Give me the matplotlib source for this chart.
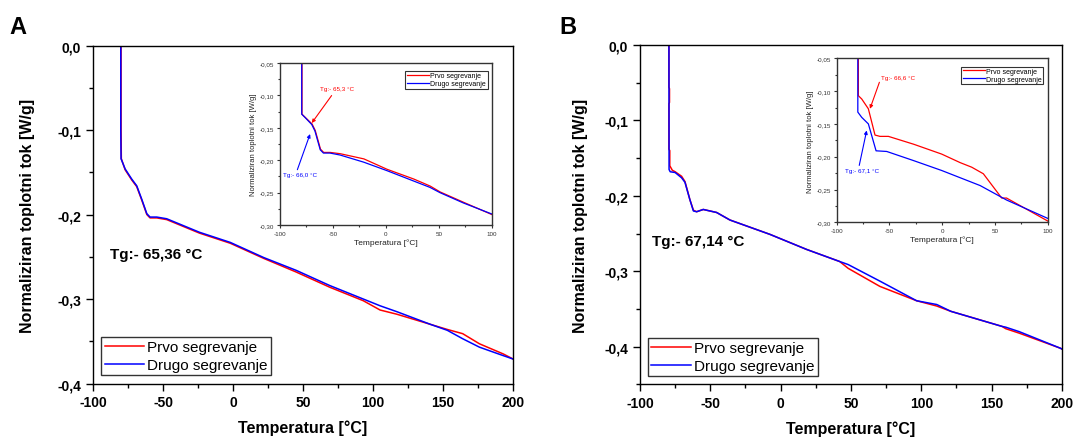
import matplotlib
matplotlib.use("Agg")
import matplotlib.pyplot as plt
from matplotlib.ticker import FuncFormatter, MultipleLocator

plt.rcParams['font.family'] = ['Liberation Sans', 'DejaVu Sans']
plt.rcParams['axes.unicode_minus'] = False

RED = "#ff0000"
BLUE = "#0000ff"

# panel A, main curve (first / second heating)
temp_a_red = [-80.0, -80.0, -79.8, -77.1, -72.4, -68.8, -65.2, -61.6, -59.3, -54.5, -47.4,
              -24, -2, 22, 45, 69, 93, 105, 117, 141, 153, 164, 176, 193, 200]
flow_a_red = [0.02, -0.10, -0.134, -0.147, -0.159, -0.167, -0.183, -0.200, -0.204, -0.204, -0.206,
              -0.222, -0.234, -0.252, -0.268, -0.286, -0.302, -0.313, -0.318, -0.330, -0.336,
              -0.341, -0.353, -0.365, -0.371]
temp_a_blue = [-80.2, -80.2, -80.0, -77.1, -72.4, -68.8, -65.2, -61.6, -59.3, -54.5, -47.4,
               -24, -2, 22, 45, 69, 93, 105, 117, 141, 153, 164, 176, 193, 200]
flow_a_blue = [0.02, -0.10, -0.134, -0.146, -0.158, -0.166, -0.182, -0.199, -0.203, -0.203, -0.205,
               -0.221, -0.233, -0.251, -0.266, -0.284, -0.300, -0.308, -0.315, -0.330, -0.337,
               -0.347, -0.357, -0.367, -0.371]

# panel B, main curve
temp_b_red = [-79.4, -79.4, -79.0, -79.0, -79.4, -79.4, -78.8, -78.8, -77.0, -75.0, -70.4, -68.0,
              -64.5, -62.0, -59.7, -55.0, -45.5, -36, -7.6, 18.5, 42, 48, 70.6, 96.7, 111, 121,
              157.4, 160, 169.7, 199, 200]
flow_b_red = [0.02, -0.056, -0.058, -0.076, -0.078, -0.138, -0.140, -0.160, -0.166, -0.168, -0.174,
              -0.181, -0.205, -0.219, -0.221, -0.218, -0.222, -0.232, -0.251, -0.271, -0.287, -0.296,
              -0.320, -0.339, -0.346, -0.353, -0.373, -0.376, -0.382, -0.402, -0.403]
temp_b_blue = [-79.4, -79.3, -78.5, -75.0, -70.4, -68.0, -64.5, -62.0, -59.7, -55.0, -45.5, -36,
               -7.6, 18.5, 42, 48, 70.6, 96.7, 111, 121, 157.4, 160, 169.7, 199, 200]
flow_b_blue = [0.02, -0.165, -0.168, -0.169, -0.176, -0.182, -0.205, -0.220, -0.221, -0.218, -0.222,
               -0.232, -0.251, -0.271, -0.287, -0.291, -0.313, -0.339, -0.344, -0.353, -0.373,
               -0.374, -0.380, -0.402, -0.403]

# inset A
ins_temp_a = [-79.5, -79.5, -76.4, -70, -67, -62, -59, -52.8, -43.3, -21, 0.8, 26, 41.7, 51, 73.2, 100]
ins_a_red = [-0.04, -0.129, -0.134, -0.144, -0.154, -0.183, -0.188, -0.188, -0.190, -0.198, -0.214,
             -0.229, -0.240, -0.249, -0.265, -0.284]
ins_a_blue = [-0.04, -0.129, -0.134, -0.145, -0.155, -0.184, -0.189, -0.189, -0.192, -0.203, -0.216,
              -0.232, -0.242, -0.250, -0.266, -0.283]

# inset B
ins_temp_b_red = [-79.5, -79.5, -76.3, -70, -63.7, -59, -51, -27, -0.5, 17, 28, 39, 56.4, 61, 100]
ins_b_red = [-0.04, -0.107, -0.112, -0.127, -0.167, -0.169, -0.169, -0.181, -0.196, -0.209, -0.216,
             -0.226, -0.263, -0.263, -0.298]
ins_temp_b_blue = [-80, -80, -76.3, -70, -62.7, -52.6, -27, -0.5, 36, 61, 100]
ins_b_blue = [-0.04, -0.132, -0.140, -0.150, -0.191, -0.192, -0.206, -0.221, -0.244, -0.266, -0.294]

labels = ["Prvo segrevanje", "Drugo segrevanje"]


def comma(dec):
    def fmt(v, pos):
        if abs(v) < 1e-9:
            v = 0.0
        return f"{v:.{dec}f}".replace(".", ",")
    return FuncFormatter(fmt)


def style_main(ax, ymin, tg_text, tg_pos, ylab_x):
    ax.set_xlim(-100, 200)
    ax.set_ylim(ymin, 0.0)
    ax.xaxis.set_major_locator(MultipleLocator(50))
    ax.xaxis.set_minor_locator(MultipleLocator(25))
    ax.yaxis.set_major_locator(MultipleLocator(0.1))
    ax.yaxis.set_minor_locator(MultipleLocator(0.05))
    ax.yaxis.set_major_formatter(comma(1))
    ax.tick_params(which="major", direction="out", length=5, width=1, labelsize=10)
    ax.tick_params(which="minor", direction="out", length=3, width=1)
    for lab in ax.get_xticklabels() + ax.get_yticklabels():
        lab.set_fontweight("bold")
    for sp in ax.spines.values():
        sp.set_linewidth(1.0)
    ax.set_xlabel("Temperatura [°C]", fontsize=11.5, fontweight="bold")
    ax.set_ylabel("Normaliziran toplotni tok [W/g]", fontsize=11.5, fontweight="bold")
    ax.xaxis.set_label_coords(0.5, -0.13)
    ax.xaxis.label.set_va("center")
    ax.yaxis.set_label_coords(ylab_x, 0.5)
    ax.yaxis.label.set_va("center")
    ax.text(tg_pos[0], tg_pos[1], tg_text, fontsize=11, fontweight="bold", ha="left", va="center")
    ax.legend(loc="lower left", bbox_to_anchor=(0.02, 0.025), fontsize=11, frameon=True,
              fancybox=False, edgecolor="black", handlelength=2.6, handletextpad=0.2,
              borderpad=0.2, labelspacing=0.25, borderaxespad=0.0)
    ax.get_legend().get_frame().set_linewidth(1.0)


def style_inset(ax):
    ax.set_xlim(-100, 100)
    ax.set_ylim(-0.30, -0.05)
    ax.xaxis.set_major_locator(MultipleLocator(50))
    ax.xaxis.set_minor_locator(MultipleLocator(25))
    ax.yaxis.set_major_locator(MultipleLocator(0.05))
    ax.yaxis.set_minor_locator(MultipleLocator(0.025))
    ax.yaxis.set_major_formatter(comma(2))
    ax.tick_params(which="major", direction="out", length=2.5, width=0.8, labelsize=4.5, pad=1.5,
                   color="#333333", labelcolor="#333333")
    ax.tick_params(which="minor", direction="out", length=1.5, width=0.8, color="#333333")
    for sp in ax.spines.values():
        sp.set_linewidth(1.0)
        sp.set_color("#333333")
    ax.set_xlabel("Temperatura [°C]", fontsize=6, labelpad=2, color="#222222")
    ax.set_ylabel("Normaliziran toplotni tok [W/g]", fontsize=5.5, labelpad=2, color="#222222")
    ax.legend(loc="upper right", bbox_to_anchor=(0.98, 0.95), fontsize=5, frameon=True,
              fancybox=False, edgecolor="black", handlelength=3.2, handletextpad=0.2,
              borderpad=0.2, labelspacing=0.1, borderaxespad=0.0)
    ax.get_legend().get_frame().set_linewidth(0.8)


fig = plt.figure(figsize=(10.77, 4.39), dpi=100)

ax_a = fig.add_axes([0.0864, 0.1241, 0.3900, 0.7699])
ax_a.plot(temp_a_red, flow_a_red, color=RED, lw=1.1, label=labels[0])
ax_a.plot(temp_a_blue, flow_a_blue, color=BLUE, lw=1.1, label=labels[1])
style_main(ax_a, -0.4, "Tg:- 65,36 °C", (-88, -0.247), -0.155)

ax_b = fig.add_axes([0.5942, 0.1219, 0.3918, 0.7733])
ax_b.plot(temp_b_red, flow_b_red, color=RED, lw=1.1, label=labels[0])
ax_b.plot(temp_b_blue, flow_b_blue, color=BLUE, lw=1.1, label=labels[1])
style_main(ax_b, -0.45, "Tg:- 67,14 °C", (-91.5, -0.260), -0.14)

# insets
in_a = fig.add_axes([0.2600, 0.4852, 0.1966, 0.3690])
in_a.plot([t + 0.25 for t in ins_temp_a], ins_a_red, color=RED, lw=0.9, label=labels[0])
in_a.plot(ins_temp_a, ins_a_blue, color=BLUE, lw=0.9, label=labels[1])
style_inset(in_a)
in_a.annotate("Tg:- 65,3 °C", xy=(-70.0, -0.1426), xytext=(-62.2, -0.0886), fontsize=4.5, color=RED,
              ha="left", va="center",
              arrowprops=dict(arrowstyle="-|>", color=RED, lw=0.8, mutation_scale=5, shrinkA=2, shrinkB=0))
in_a.annotate("Tg:- 66,0 °C", xy=(-71.6, -0.1596), xytext=(-97.4, -0.2228), fontsize=4.5, color=BLUE,
              ha="left", va="center",
              arrowprops=dict(arrowstyle="-|>", color=BLUE, lw=0.8, mutation_scale=5, shrinkA=0, shrinkB=0,
                              relpos=(0.4, 1.0)))

in_b = fig.add_axes([0.7769, 0.4913, 0.1959, 0.3736])
in_b.plot(ins_temp_b_red, ins_b_red, color=RED, lw=0.9, label=labels[0])
in_b.plot(ins_temp_b_blue, ins_b_blue, color=BLUE, lw=0.9, label=labels[1])
style_inset(in_b)
in_b.annotate("Tg:- 66,6 °C", xy=(-68.5, -0.127), xytext=(-58.1, -0.0785), fontsize=4.5, color=RED,
              ha="left", va="center",
              arrowprops=dict(arrowstyle="-|>", color=RED, lw=0.8, mutation_scale=5, shrinkA=0, shrinkB=0,
                              relpos=(0.0, 0.3)))
in_b.annotate("Tg:- 67,1 °C", xy=(-71.6, -0.160), xytext=(-92.1, -0.2213), fontsize=4.5, color=BLUE,
              ha="left", va="center",
              arrowprops=dict(arrowstyle="-|>", color=BLUE, lw=0.8, mutation_scale=5, shrinkA=0, shrinkB=0,
                              relpos=(0.4, 1.0)))

fig.text(18 / 1077, 1 - 27 / 439, "A", fontsize=17, fontweight="bold", ha="center", va="center")
fig.text(568 / 1077, 1 - 27 / 439, "B", fontsize=17, fontweight="bold", ha="center", va="center")

fig.savefig("out.png", dpi=100)
